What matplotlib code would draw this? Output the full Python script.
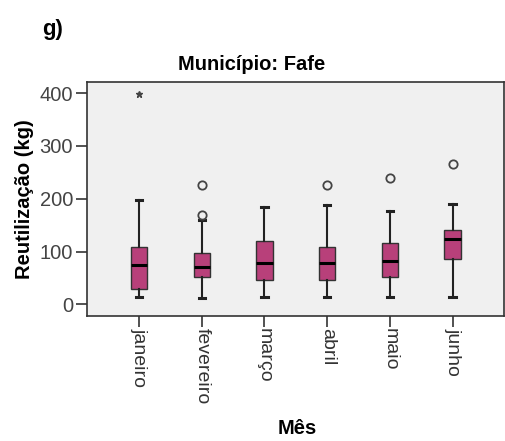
import matplotlib
matplotlib.use('Agg')
import matplotlib.pyplot as plt

meses = ['janeiro', 'fevereiro', 'março', 'abril', 'maio', 'junho']
whis_lo = [14, 13, 14, 14, 14, 14]
q1 = [30, 51, 46, 47, 51, 86]
mediana = [75, 70, 78, 78, 83, 124]
q3 = [109, 98, 120, 108, 116, 140]
whis_hi = [198, 160, 184, 188, 176, 190]
outliers = [[], [226, 169], [], [226], [239], [266]]
extremos = [[399], [], [], [], [], []]

plt.rcParams['font.family'] = ['Liberation Sans', 'DejaVu Sans']

fig = plt.figure(figsize=(5.05, 4.41), dpi=100)
ax = fig.add_axes([87/505, 1 - 316/441, 417/505, 234/441])
ax.set_facecolor('#f0f0f0')

stats = []
for k in range(len(meses)):
    stats.append({'whislo': whis_lo[k], 'q1': q1[k], 'med': mediana[k],
                  'q3': q3[k], 'whishi': whis_hi[k], 'fliers': outliers[k],
                  'label': meses[k]})

ax.bxp(stats, positions=range(len(meses)), widths=0.26, patch_artist=True,
       boxprops=dict(facecolor='#b8407a', edgecolor='#333333', linewidth=1.0),
       medianprops=dict(color='black', linewidth=2.2),
       whiskerprops=dict(color='#222222', linewidth=1.5),
       capprops=dict(color='#222222', linewidth=2.2),
       capwidths=0.1,
       flierprops=dict(marker='o', markerfacecolor='none', markeredgecolor='#444444',
                       markersize=6, markeredgewidth=1.3))

for k, vals in enumerate(extremos):
    for v in vals:
        ax.plot(k, v, marker='*', color='#444444', markersize=5, linestyle='none')

ax.set_xlim(-0.83, 5.82)
ax.set_ylim(-22, 421)
ax.set_yticks([0, 100, 200, 300, 400])
ax.set_xticks(range(len(meses)))
ax.set_xticklabels(meses, rotation=-90, fontsize=14, color='#333333')
ax.tick_params(axis='y', labelsize=14.5, labelcolor='#444444', length=8, width=1.2, color='#333333', pad=2)
ax.tick_params(axis='x', length=8, width=1.2, color='#333333', pad=0.5)
for s in ax.spines.values():
    s.set_color('#333333')
    s.set_linewidth(1.2)

ax.set_ylabel('Reutilização (kg)', fontsize=14.5, fontweight='bold', labelpad=4)
fig.text(297/505, 1 - 428/441, 'Mês', fontsize=14.5, fontweight='bold', ha='center', va='center')
fig.text(252/505, 1 - 65/441, 'Município: Fafe', fontsize=14.5, fontweight='bold', ha='center', va='center')
fig.text(42/505, 1 - 29/441, 'g)', fontsize=16, fontweight='bold', ha='left', va='center')

fig.savefig('out.png', dpi=100)
